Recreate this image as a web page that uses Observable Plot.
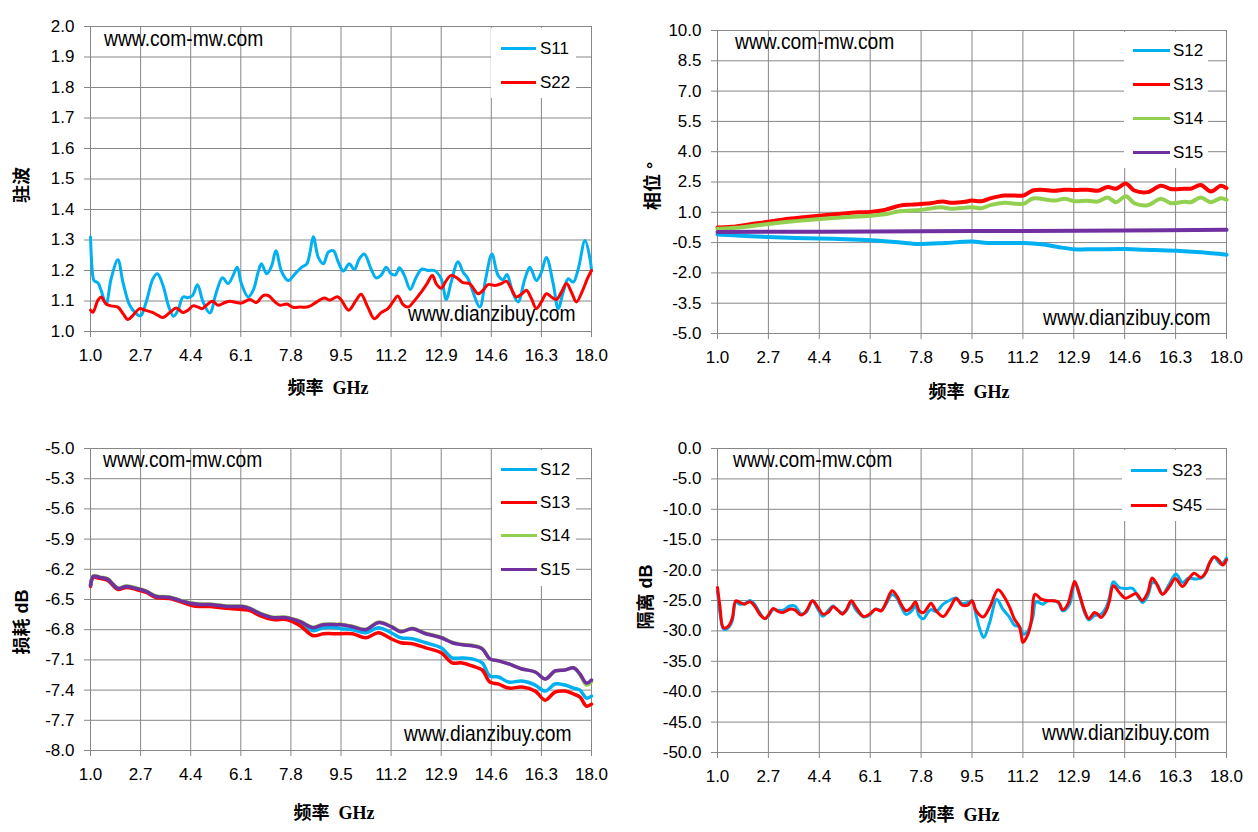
<!DOCTYPE html>
<html>
<head>
<meta charset="utf-8">
<script src="https://cdn.jsdelivr.net/npm/d3@7"></script>
<script src="https://cdn.jsdelivr.net/npm/@observablehq/plot@0.6"></script>
<style>
  html, body { margin: 0; padding: 0; background: #fff; }
  #wrap { position: relative; width: 1258px; height: 832px; overflow: hidden; background: #fff; }
  .panel { position: absolute; }
  .ttl { position: absolute; font-weight: bold; font-size: 18px; white-space: pre; color: #000;
         font-family: "Liberation Serif", "Noto Sans CJK SC", serif; transform: translate(-50%, -50%); }
  .ytl { position: absolute; font-weight: bold; font-size: 18px; white-space: pre; color: #000;
         font-family: "Liberation Sans", "Noto Sans CJK SC", sans-serif; transform: translate(-50%, -50%) rotate(-90deg); }
  .wm { position: absolute; font-family: "Liberation Sans", Arial, sans-serif; font-size: 22px; line-height: 22px;
        white-space: pre; color: #000; transform: scaleX(0.875); transform-origin: left top; }
  .lgbox { position: absolute; background: #fff; }
  .lgline { position: absolute; height: 3px; }
  .lgtxt { position: absolute; font-family: "Liberation Sans", Arial, sans-serif; font-size: 17px; line-height: 17px; color: #000; }
</style>
</head>
<body>
<div id="wrap"></div>
<script>
// ---------- tick values ----------
const xTicks = [1.0, 2.7, 4.4, 6.1, 7.8, 9.5, 11.2, 12.9, 14.6, 16.3, 18.0];
const vswrTicks = [1.0, 1.1, 1.2, 1.3, 1.4, 1.5, 1.6, 1.7, 1.8, 1.9, 2.0];
const phaseTicks = [-5.0, -3.5, -2.0, -0.5, 1.0, 2.5, 4.0, 5.5, 7.0, 8.5, 10.0];
const lossTicks = [-8.0, -7.7, -7.4, -7.1, -6.8, -6.5, -6.2, -5.9, -5.6, -5.3, -5.0];
const isoTicks = [-50, -45, -40, -35, -30, -25, -20, -15, -10, -5, 0];

// ---------- colours ----------
const cBlue = "#00B0F0", cRed = "#FF0000", cGreen = "#92D050", cPurple = "#7030A0";

// ---------- panel 1: VSWR ----------
const s11F = [1.0,1.06,1.12,1.25,1.36,1.53,1.70,1.93,2.10,2.33,2.55,2.70,2.89,3.12,3.27,3.46,3.66,3.82,3.97,4.14,4.31,4.46,4.63,4.82,5.05,5.27,5.48,5.67,5.84,5.98,6.12,6.35,6.52,6.69,6.80,6.98,7.15,7.29,7.49,7.71,7.94,8.17,8.34,8.45,8.56,8.73,8.90,9.07,9.24,9.41,9.58,9.78,9.95,10.12,10.29,10.52,10.69,10.86,11.03,11.2,11.35,11.48,11.65,11.85,12.05,12.25,12.45,12.67,12.9,13.07,13.24,13.47,13.64,13.81,13.98,14.21,14.41,14.62,14.83,15.0,15.13,15.34,15.51,15.74,15.91,16.13,16.3,16.47,16.7,16.87,17.04,17.21,17.38,17.55,17.78,17.95,18.0];
const s11V = [1.31,1.2,1.167,1.16,1.135,1.09,1.173,1.235,1.162,1.086,1.059,1.051,1.097,1.173,1.189,1.151,1.08,1.05,1.07,1.113,1.111,1.118,1.153,1.097,1.061,1.129,1.176,1.157,1.184,1.211,1.157,1.113,1.135,1.195,1.222,1.189,1.216,1.265,1.195,1.167,1.189,1.211,1.222,1.26,1.311,1.243,1.222,1.26,1.265,1.227,1.198,1.222,1.203,1.238,1.254,1.205,1.176,1.184,1.211,1.189,1.186,1.209,1.184,1.138,1.178,1.205,1.2,1.2,1.173,1.105,1.162,1.229,1.195,1.173,1.129,1.08,1.173,1.254,1.184,1.17,1.187,1.124,1.097,1.173,1.211,1.167,1.195,1.243,1.157,1.075,1.129,1.173,1.162,1.205,1.298,1.238,1.2];
const s22F = [1.0,1.08,1.25,1.36,1.53,1.70,1.93,2.10,2.27,2.44,2.67,2.84,3.12,3.29,3.46,3.69,3.91,4.14,4.31,4.48,4.65,4.80,4.93,5.14,5.33,5.56,5.73,5.95,6.12,6.41,6.63,6.86,7.03,7.26,7.43,7.66,7.88,8.11,8.39,8.68,8.93,9.12,9.38,9.5,9.76,10.01,10.18,10.41,10.63,10.86,11.09,11.26,11.43,11.6,11.77,12.0,12.22,12.42,12.6,12.73,12.9,13.07,13.24,13.47,13.64,13.86,14.15,14.32,14.49,14.72,14.94,15.11,15.28,15.45,15.62,15.79,15.96,16.13,16.3,16.47,16.64,16.81,16.98,17.15,17.32,17.49,17.7,17.86,18.0];
const s22V = [1.07,1.063,1.102,1.113,1.09,1.084,1.080,1.059,1.039,1.053,1.075,1.07,1.062,1.053,1.046,1.062,1.077,1.062,1.07,1.084,1.08,1.075,1.086,1.099,1.086,1.095,1.099,1.095,1.093,1.105,1.095,1.118,1.118,1.097,1.086,1.09,1.079,1.08,1.081,1.097,1.11,1.103,1.114,1.105,1.07,1.102,1.122,1.08,1.042,1.062,1.075,1.097,1.116,1.089,1.08,1.102,1.129,1.157,1.184,1.157,1.142,1.167,1.184,1.173,1.16,1.157,1.124,1.135,1.154,1.151,1.157,1.165,1.14,1.113,1.122,1.135,1.108,1.075,1.097,1.124,1.113,1.105,1.129,1.157,1.129,1.097,1.135,1.173,1.2];

// ---------- panel 2: phase ----------
const p12F = [1.0,1.92,2.7,3.59,4.39,5.26,6.09,6.92,7.48,7.79,8.59,9.49,10.03,11.22,11.81,12.37,12.92,13.59,14.62,15.26,16.32,17.14,18.0];
const p12V = [-0.1,-0.17,-0.22,-0.27,-0.30,-0.33,-0.38,-0.47,-0.55,-0.57,-0.52,-0.45,-0.52,-0.52,-0.58,-0.72,-0.83,-0.83,-0.82,-0.85,-0.9,-0.98,-1.1];
const p13F = [1.0,1.48,2.14,2.7,3.37,4.03,4.39,5.03,5.7,6.09,6.59,7.09,7.48,8.03,8.53,8.81,9.26,9.49,9.81,10.14,10.59,10.92,11.22,11.53,11.81,12.26,12.59,12.92,13.37,13.70,14.03,14.31,14.64,14.92,15.37,15.81,16.14,16.59,16.81,17.14,17.48,17.81,18.0];
const p13V = [0.25,0.28,0.42,0.53,0.68,0.78,0.83,0.92,1.0,1.02,1.12,1.33,1.38,1.43,1.53,1.47,1.52,1.58,1.55,1.70,1.83,1.83,1.83,2.08,2.12,2.07,2.12,2.1,2.12,2.07,2.25,2.17,2.42,2.08,2.0,2.32,2.15,2.17,2.17,2.35,2.03,2.32,2.2];
const p14F = [1.0,1.48,2.14,2.7,3.37,4.03,5.03,6.09,6.59,7.09,7.79,8.48,8.81,9.49,9.81,10.14,10.59,11.22,11.53,12.26,12.59,12.92,13.37,13.70,14.03,14.31,14.64,14.92,15.37,15.81,16.14,16.59,16.81,17.14,17.48,17.81,18.0];
const p14V = [0.18,0.22,0.32,0.42,0.53,0.62,0.73,0.83,0.9,1.05,1.12,1.25,1.18,1.25,1.2,1.37,1.47,1.42,1.68,1.58,1.67,1.55,1.57,1.53,1.73,1.5,1.8,1.45,1.35,1.67,1.45,1.52,1.5,1.73,1.5,1.7,1.62];
const p15F = [1.0,4.4,7.8,11.2,14.6,18.0];
const p15V = [0.03,0.04,0.06,0.08,0.10,0.13];

// ---------- panel 3: insertion loss ----------
const lossF = [1.0,1.1,1.31,1.59,1.76,1.93,2.21,2.55,2.89,3.23,3.69,4.03,4.44,4.71,5.05,5.39,5.73,6.14,6.41,6.75,7.2,7.65,8.11,8.56,8.9,9.36,9.5,9.89,10.34,10.77,11.2,11.53,11.92,12.37,12.9,13.27,13.61,13.95,14.29,14.55,14.85,15.19,15.64,16.09,16.43,16.76,17.1,17.4,17.61,17.83,18.0];
const l12V = [-6.36,-6.27,-6.28,-6.30,-6.35,-6.39,-6.37,-6.39,-6.42,-6.47,-6.48,-6.51,-6.55,-6.56,-6.56,-6.57,-6.58,-6.58,-6.60,-6.645,-6.69,-6.69,-6.74,-6.81,-6.78,-6.78,-6.79,-6.8,-6.83,-6.78,-6.83,-6.88,-6.89,-6.93,-6.98,-7.08,-7.08,-7.09,-7.13,-7.26,-7.27,-7.32,-7.31,-7.35,-7.41,-7.34,-7.35,-7.38,-7.40,-7.48,-7.46];
const l13V = [-6.37,-6.28,-6.29,-6.31,-6.36,-6.40,-6.38,-6.40,-6.43,-6.48,-6.49,-6.52,-6.56,-6.57,-6.57,-6.58,-6.59,-6.60,-6.61,-6.66,-6.70,-6.70,-6.76,-6.86,-6.84,-6.84,-6.84,-6.84,-6.88,-6.83,-6.89,-6.93,-6.94,-6.98,-7.03,-7.13,-7.13,-7.16,-7.2,-7.32,-7.34,-7.38,-7.37,-7.41,-7.5,-7.42,-7.41,-7.44,-7.47,-7.56,-7.54];
const l14V = [-6.355,-6.265,-6.275,-6.295,-6.345,-6.385,-6.365,-6.385,-6.415,-6.465,-6.475,-6.505,-6.535,-6.545,-6.545,-6.555,-6.565,-6.565,-6.585,-6.635,-6.675,-6.675,-6.715,-6.775,-6.745,-6.745,-6.745,-6.765,-6.795,-6.725,-6.765,-6.815,-6.785,-6.835,-6.875,-6.925,-6.945,-6.955,-6.985,-7.09,-7.11,-7.14,-7.19,-7.22,-7.29,-7.215,-7.2,-7.18,-7.25,-7.35,-7.32];
const l15V = [-6.36,-6.27,-6.28,-6.30,-6.35,-6.39,-6.37,-6.39,-6.42,-6.47,-6.48,-6.51,-6.54,-6.55,-6.55,-6.56,-6.57,-6.57,-6.59,-6.64,-6.68,-6.68,-6.72,-6.78,-6.75,-6.75,-6.75,-6.77,-6.8,-6.73,-6.77,-6.82,-6.79,-6.84,-6.88,-6.93,-6.95,-6.96,-6.99,-7.09,-7.11,-7.14,-7.19,-7.22,-7.29,-7.21,-7.2,-7.18,-7.24,-7.33,-7.3];

// ---------- panel 4: isolation ----------
const i23F = [1.0,1.08,1.2,1.3,1.41,1.5,1.61,1.74,1.91,2.08,2.24,2.41,2.58,2.69,2.86,3.02,3.19,3.41,3.58,3.8,3.97,4.17,4.36,4.52,4.69,4.86,4.99,5.17,5.3,5.47,5.63,5.88,6.08,6.28,6.47,6.63,6.83,6.99,7.13,7.3,7.47,7.61,7.74,7.88,8.02,8.13,8.3,8.54,8.74,8.97,9.17,9.36,9.5,9.64,9.76,9.89,10.09,10.33,10.53,10.76,10.92,11.09,11.22,11.37,11.53,11.64,11.87,12.03,12.37,12.53,12.76,12.93,13.09,13.26,13.4,13.59,13.81,13.98,14.09,14.22,14.42,14.64,14.87,15.03,15.2,15.37,15.53,15.7,15.86,16.09,16.31,16.53,16.73,16.98,17.2,17.42,17.59,17.81,18.0];
const i23V = [-23.5,-27,-29.7,-29.7,-29.2,-28.2,-25.3,-25.6,-25.5,-25.0,-25.6,-27.0,-28.0,-27.6,-26.5,-26.6,-26.6,-25.9,-25.9,-27.2,-26.9,-25.1,-26.5,-27.6,-26.7,-25.9,-26.5,-27.0,-26.7,-25.3,-26.6,-27.7,-27.4,-26.4,-26.6,-25.6,-24.0,-24.6,-26.0,-27.3,-26.8,-25.9,-27.6,-28.0,-27.0,-26.5,-26.8,-25.6,-25.0,-24.6,-25.5,-25.3,-25.05,-27.5,-29.7,-31.1,-28.6,-24.78,-26.43,-27.8,-29.07,-29.3,-30.55,-30.0,-27.8,-25.22,-25.6,-25.05,-25.33,-26.7,-25.6,-22.03,-24.23,-26.98,-28.19,-27.5,-27.25,-26.15,-24.5,-21.92,-22.86,-23.02,-23.02,-24.23,-25.33,-24.23,-22.03,-22.47,-23.96,-22.3,-20.66,-22.03,-21.32,-21.48,-21.2,-19.0,-17.9,-19.0,-18.0];
const i45F = [1.0,1.08,1.19,1.3,1.41,1.5,1.61,1.74,1.91,2.08,2.24,2.41,2.58,2.69,2.86,3.02,3.19,3.41,3.58,3.8,3.97,4.17,4.36,4.52,4.69,4.86,4.99,5.17,5.3,5.47,5.63,5.88,6.08,6.28,6.47,6.63,6.83,6.99,7.13,7.3,7.47,7.61,7.74,7.88,8.02,8.13,8.3,8.54,8.74,8.97,9.17,9.36,9.5,9.64,9.87,10.09,10.37,10.59,10.76,10.92,11.07,11.14,11.2,11.37,11.48,11.61,11.81,12.03,12.26,12.4,12.53,12.7,12.84,12.93,13.09,13.26,13.4,13.59,13.7,13.81,13.98,14.09,14.22,14.42,14.62,14.81,14.98,15.18,15.37,15.51,15.64,15.86,16.09,16.29,16.53,16.73,16.92,17.14,17.31,17.44,17.59,17.76,17.87,18.0];
const i45V = [-22.86,-25.9,-29.45,-29.45,-28.9,-27.8,-25.05,-25.3,-25.6,-25.2,-25.9,-27.25,-27.97,-27.5,-26.3,-26.8,-26.98,-26.43,-26.54,-27.4,-26.7,-25.05,-26.15,-27.25,-26.98,-26.04,-26.43,-27.25,-26.54,-25.05,-26.15,-27.64,-27.25,-26.43,-26.7,-25.33,-23.4,-24.23,-25.6,-26.7,-26.15,-25.2,-26.7,-26.98,-26.15,-25.44,-26.7,-27.64,-26.43,-24.67,-25.77,-25.77,-25.05,-26.7,-27.7,-26.15,-23.24,-24.5,-26.15,-28.08,-29.18,-30.55,-31.9,-30.55,-28.35,-23.96,-24.78,-25.05,-25.05,-25.33,-26.54,-25.6,-23.13,-21.87,-23.96,-26.7,-27.97,-26.98,-27.25,-27.8,-26.7,-25.05,-22.58,-23.68,-24.62,-24.23,-23.85,-25.0,-23.68,-21.32,-22.03,-23.96,-22.75,-21.37,-22.69,-21.48,-20.5,-21.2,-20.4,-18.74,-17.8,-18.46,-19.18,-18.3];

// ---------- texts ----------
const xTitle = "频率  GHz";
const yTitles = ["驻波", "相位 °", "损耗 dB", "隔离 dB"];
const wm1 = "www.com-mw.com", wm2 = "www.dianzibuy.com";

const rows = (F, V) => F.map((f, i) => ({f, v: V[i]}));
const fmt = d => d.toFixed(1);
const grid = "#878787";

function panel({left, top, ml, mr, mt, mb, yDomain, yTicks, series, sw}) {
  const marks = [
    Plot.gridX(xTicks, {stroke: grid, strokeOpacity: 1, strokeWidth: 1}),
    Plot.gridY(yTicks, {stroke: grid, strokeOpacity: 1, strokeWidth: 1}),
    Plot.axisX(xTicks, {tickSize: 6, tickPadding: 11, tickFormat: fmt, stroke: grid, fill: "#000", fontSize: 17, label: null}),
    Plot.axisY(yTicks, {tickSize: 6, tickPadding: 10, tickFormat: fmt, stroke: grid, fill: "#000", fontSize: 17, label: null})
  ];
  for (const s of series) {
    marks.push(Plot.line(rows(s.F, s.V), {x: "f", y: "v", stroke: s.color, strokeWidth: sw, curve: "catmull-rom"}));
  }
  const svg = Plot.plot({
    width: 629, height: 416,
    marginLeft: ml, marginRight: mr, marginTop: mt, marginBottom: mb,
    x: {domain: [1, 18]},
    y: {domain: yDomain},
    style: {fontFamily: "'Liberation Sans', Arial, sans-serif", fontSize: "17px", color: "#000", background: "transparent", overflow: "visible"},
    marks
  });
  const d = document.createElement("div");
  d.className = "panel";
  d.style.left = left + "px"; d.style.top = top + "px";
  d.appendChild(svg);
  wrap.appendChild(d);
}

function addDiv(cls, text, css) {
  const d = document.createElement("div");
  d.className = cls;
  if (text != null) d.textContent = text;
  Object.assign(d.style, css);
  wrap.appendChild(d);
  return d;
}

function legend(box, lineX1, lineX2, textX, ys, series) {
  addDiv("lgbox", null, {left: box[0] + "px", top: box[1] + "px", width: (box[2] - box[0]) + "px", height: (box[3] - box[1]) + "px"});
  series.forEach((s, i) => {
    addDiv("lgline", null, {left: lineX1 + "px", top: (ys[i] - 1.5) + "px", width: (lineX2 - lineX1) + "px", background: s.color});
    addDiv("lgtxt", s.name, {left: textX + "px", top: (ys[i] - 8.5) + "px"});
  });
}

const wrap = document.getElementById("wrap");

const ser1 = [{name: "S11", F: s11F, V: s11V, color: cBlue}, {name: "S22", F: s22F, V: s22V, color: cRed}];
const ser2 = [{name: "S12", F: p12F, V: p12V, color: cBlue}, {name: "S13", F: p13F, V: p13V, color: cRed},
              {name: "S14", F: p14F, V: p14V, color: cGreen}, {name: "S15", F: p15F, V: p15V, color: cPurple}];
const ser3 = [{name: "S12", F: lossF, V: l12V, color: cBlue}, {name: "S13", F: lossF, V: l13V, color: cRed},
              {name: "S14", F: lossF, V: l14V, color: cGreen}, {name: "S15", F: lossF, V: l15V, color: cPurple}];
const ser4 = [{name: "S23", F: i23F, V: i23V, color: cBlue}, {name: "S45", F: i45F, V: i45V, color: cRed}];

panel({left: 0, top: 0, ml: 90, mr: 38, mt: 26, mb: 85, yDomain: [1, 2], yTicks: vswrTicks, series: ser1, sw: 3});
panel({left: 629, top: 0, ml: 88, mr: 32, mt: 30, mb: 83, yDomain: [-5, 10], yTicks: phaseTicks, series: ser2, sw: 4});
panel({left: 0, top: 416, ml: 90, mr: 38, mt: 32, mb: 82, yDomain: [-8, -5], yTicks: lossTicks, series: ser3, sw: 3.5});
panel({left: 629, top: 416, ml: 88, mr: 32, mt: 32, mb: 80, yDomain: [-50, 0], yTicks: isoTicks, series: ser4, sw: 3});

// legends
legend([491, 28, 576, 98], 501, 536, 540, [48, 82], ser1);
legend([1124, 32, 1208, 168], 1133, 1170, 1173, [50, 84, 118, 152], ser2);
legend([492, 450, 576, 586], 501, 537, 540, [469, 502, 535, 569], ser3);
legend([1122, 450, 1206, 521], 1131, 1167, 1172, [470, 505], ser4);

// watermarks (baseline approx top + 18.6)
[[104, 47, wm1], [408, 322, wm2], [735, 50, wm1], [1043, 326, wm2],
 [103, 468, wm1], [404, 742, wm2], [733, 468, wm1], [1042, 741, wm2]].forEach(([x, b, t]) => {
  addDiv("wm", t, {left: x + "px", top: (b - 18.6) + "px"});
});

// axis titles
[[328, 386], [969, 390], [334, 811], [959, 813]].forEach(([x, y]) => addDiv("ttl", xTitle, {left: x + "px", top: y + "px"}));
[[20, 185], [651, 186], [20, 622], [644, 597]].forEach(([x, y], i) => addDiv("ytl", yTitles[i], {left: x + "px", top: y + "px"}));
</script>
</body>
</html>
